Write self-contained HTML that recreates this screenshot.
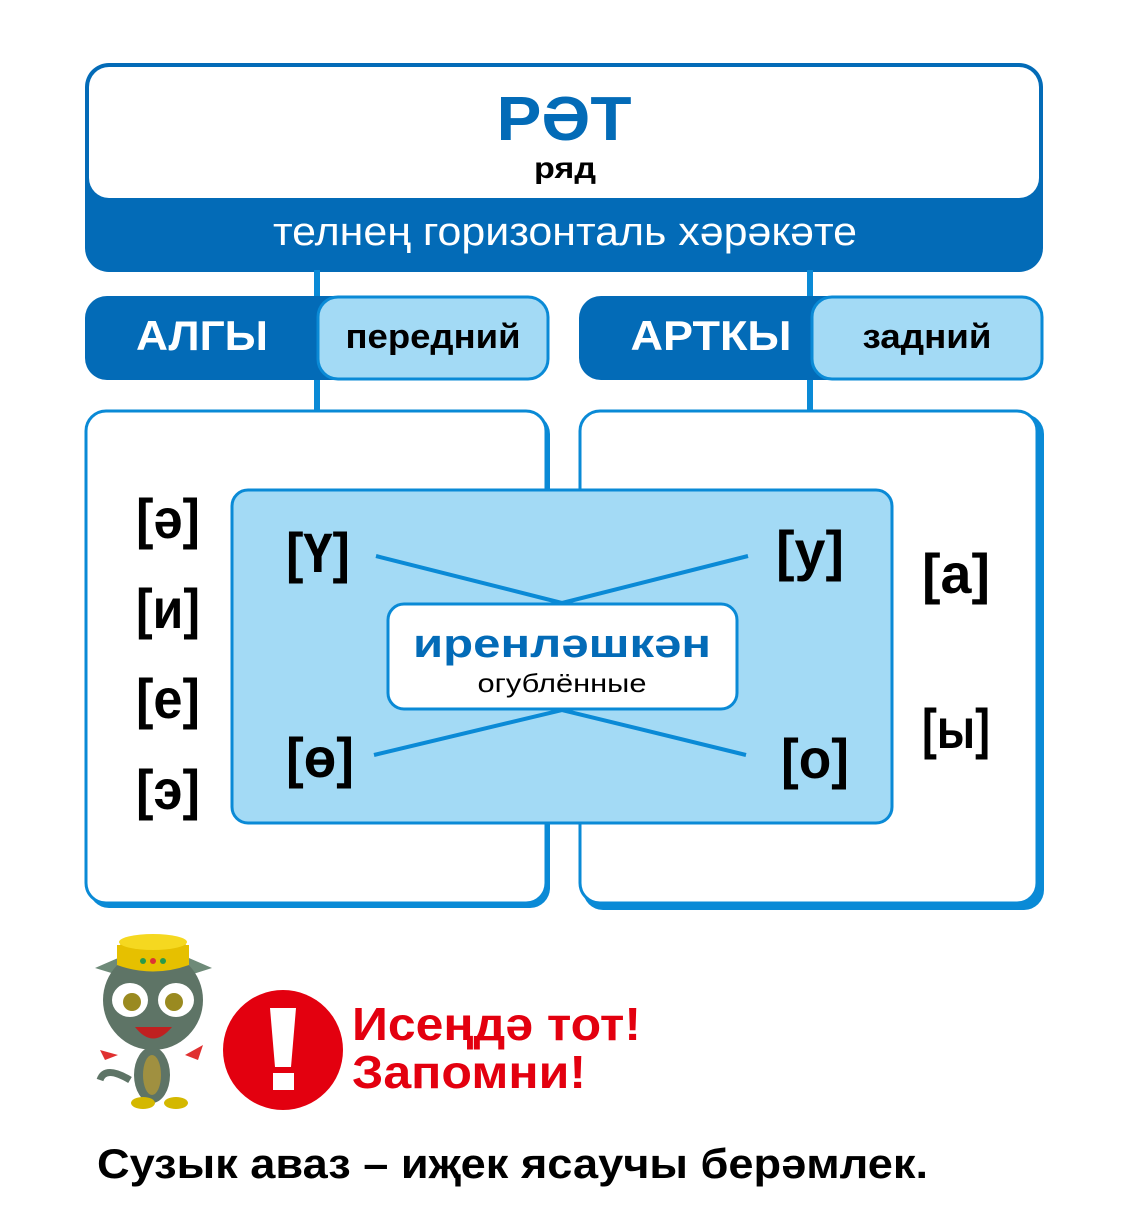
<!DOCTYPE html>
<html><head><meta charset="utf-8"><style>
html,body{margin:0;padding:0;background:#fff;}
svg{display:block;}
text{font-family:"Liberation Sans","DejaVu Sans",sans-serif;}
</style></head><body>
<svg width="1134" height="1219" viewBox="0 0 1134 1219" xmlns="http://www.w3.org/2000/svg">
<rect x="85" y="63" width="958" height="209" rx="24" fill="#036bb7"/>
<rect x="89" y="67" width="950" height="131" rx="20" fill="#fff"/>
<text x="564" y="140" text-anchor="middle" font-size="62" font-weight="900" fill="#036bb7" textLength="135" lengthAdjust="spacingAndGlyphs">РӘТ</text>
<text x="565" y="178" text-anchor="middle" font-size="30" font-weight="bold" fill="#000" textLength="62" lengthAdjust="spacingAndGlyphs">ряд</text>
<text x="565" y="245" text-anchor="middle" font-size="40" fill="#fff" textLength="584" lengthAdjust="spacingAndGlyphs">телнең горизонталь хәрәкәте</text>
<rect x="314" y="270" width="6" height="30" fill="#0a8ad6"/>
<rect x="807" y="270" width="6" height="30" fill="#0a8ad6"/>
<rect x="314" y="376" width="6" height="36" fill="#0a8ad6"/>
<rect x="807" y="376" width="6" height="36" fill="#0a8ad6"/>
<rect x="85" y="296" width="464" height="84" rx="22" fill="#036bb7"/>
<rect x="318" y="297" width="230" height="82" rx="20" fill="#a3daf5" stroke="#0a8ad6" stroke-width="3"/>
<text x="202" y="350" text-anchor="middle" font-size="42" font-weight="900" fill="#fff" textLength="132" lengthAdjust="spacingAndGlyphs">АЛГЫ</text>
<text x="433" y="348" text-anchor="middle" font-size="34" font-weight="bold" fill="#000" textLength="175" lengthAdjust="spacingAndGlyphs">передний</text>
<rect x="579" y="296" width="464" height="84" rx="22" fill="#036bb7"/>
<rect x="812" y="297" width="230" height="82" rx="20" fill="#a3daf5" stroke="#0a8ad6" stroke-width="3"/>
<text x="711" y="350" text-anchor="middle" font-size="42" font-weight="900" fill="#fff" textLength="161" lengthAdjust="spacingAndGlyphs">АРТКЫ</text>
<text x="927" y="348" text-anchor="middle" font-size="34" font-weight="bold" fill="#000" textLength="129" lengthAdjust="spacingAndGlyphs">задний</text>
<rect x="89" y="414" width="461" height="494" rx="20" fill="#0a8ad6"/>
<rect x="86" y="411" width="460" height="492" rx="20" fill="#fff" stroke="#0a8ad6" stroke-width="3"/>
<rect x="583" y="414" width="461" height="496" rx="20" fill="#0a8ad6"/>
<rect x="580" y="411" width="457" height="492" rx="20" fill="#fff" stroke="#0a8ad6" stroke-width="3"/>
<rect x="232" y="490" width="660" height="333" rx="16" fill="#a3daf5" stroke="#0a8ad6" stroke-width="3"/>
<g stroke="#0a8ad6" stroke-width="4" fill="none">
<polyline points="376,556 562,603 748,556"/>
<polyline points="374,755 562,710 746,755"/>
</g>
<rect x="388" y="604" width="349" height="105" rx="16" fill="#fff" stroke="#0a8ad6" stroke-width="3"/>
<text x="562" y="657" text-anchor="middle" font-size="40" font-weight="900" fill="#036bb7" textLength="298" lengthAdjust="spacingAndGlyphs">иренләшкән</text>
<text x="562" y="692" text-anchor="middle" font-size="26" fill="#000" textLength="169" lengthAdjust="spacingAndGlyphs">огублённые</text>
<g font-size="56" font-weight="bold" fill="#000" text-anchor="middle">
<text x="168" y="538" textLength="64" lengthAdjust="spacingAndGlyphs">[ə]</text>
<text x="168" y="628" textLength="64" lengthAdjust="spacingAndGlyphs">[и]</text>
<text x="168" y="718" textLength="64" lengthAdjust="spacingAndGlyphs">[е]</text>
<text x="168" y="809" textLength="64" lengthAdjust="spacingAndGlyphs">[э]</text>
<text x="318" y="572" textLength="64" lengthAdjust="spacingAndGlyphs">[Ү]</text>
<text x="810" y="570" textLength="68" lengthAdjust="spacingAndGlyphs">[у]</text>
<text x="320" y="777" textLength="68" lengthAdjust="spacingAndGlyphs">[ө]</text>
<text x="815" y="778" textLength="68" lengthAdjust="spacingAndGlyphs">[о]</text>
<text x="956" y="593" textLength="68" lengthAdjust="spacingAndGlyphs">[а]</text>
<text x="956" y="748" textLength="68" lengthAdjust="spacingAndGlyphs">[ы]</text>
</g>
<g>
<path d="M95 968 L125 955 L118 975 Z" fill="#6e8a78"/>
<path d="M212 968 L182 955 L190 975 Z" fill="#6e8a78"/>
<circle cx="153" cy="1000" r="50" fill="#5e7466"/>
<ellipse cx="153" cy="950" rx="36" ry="13" fill="#e6c000"/>
<path d="M117 945 L117 965 Q153 978 189 965 L189 945 Z" fill="#e6c000"/>
<ellipse cx="153" cy="942" rx="34" ry="8" fill="#f5d820"/>
<circle cx="143" cy="961" r="3" fill="#2a9a4a"/><circle cx="153" cy="961" r="3" fill="#d33"/><circle cx="163" cy="961" r="3" fill="#2a9a4a"/>
<ellipse cx="130" cy="1000" rx="18" ry="17" fill="#fff"/><ellipse cx="176" cy="1000" rx="18" ry="17" fill="#fff"/>
<circle cx="132" cy="1002" r="9" fill="#9a8a20"/><circle cx="174" cy="1002" r="9" fill="#9a8a20"/>
<path d="M135 1027 Q153 1050 172 1027 Z" fill="#c02020"/>
<path d="M118 1055 L100 1050 L105 1060 Z" fill="#e03030"/>
<path d="M185 1055 L203 1045 L198 1060 Z" fill="#e03030"/>
<ellipse cx="152" cy="1075" rx="18" ry="28" fill="#5e7466"/>
<ellipse cx="152" cy="1075" rx="9" ry="20" fill="#a09040"/>
<path d="M130 1080 Q105 1065 100 1080" stroke="#5e7466" stroke-width="7" fill="none"/>
<ellipse cx="143" cy="1103" rx="12" ry="6" fill="#d4b800"/>
<ellipse cx="176" cy="1103" rx="12" ry="6" fill="#d4b800"/>
</g>
<circle cx="283" cy="1050" r="60" fill="#e3000f"/>
<path d="M270 1008 L296 1008 L291 1067 L275 1067 Z" fill="#fff"/>
<rect x="273" y="1073" width="21" height="17" fill="#fff"/>
<text x="352" y="1040" font-size="46" font-weight="900" fill="#e3000f" textLength="289" lengthAdjust="spacingAndGlyphs">Исеңдә тот!</text>
<text x="352" y="1088" font-size="46" font-weight="900" fill="#e3000f" textLength="234" lengthAdjust="spacingAndGlyphs">Запомни!</text>
<text x="97" y="1178" font-size="42" font-weight="900" fill="#000" textLength="831" lengthAdjust="spacingAndGlyphs">Сузык аваз – иҗек ясаучы берәмлек.</text>
</svg>
</body></html>
